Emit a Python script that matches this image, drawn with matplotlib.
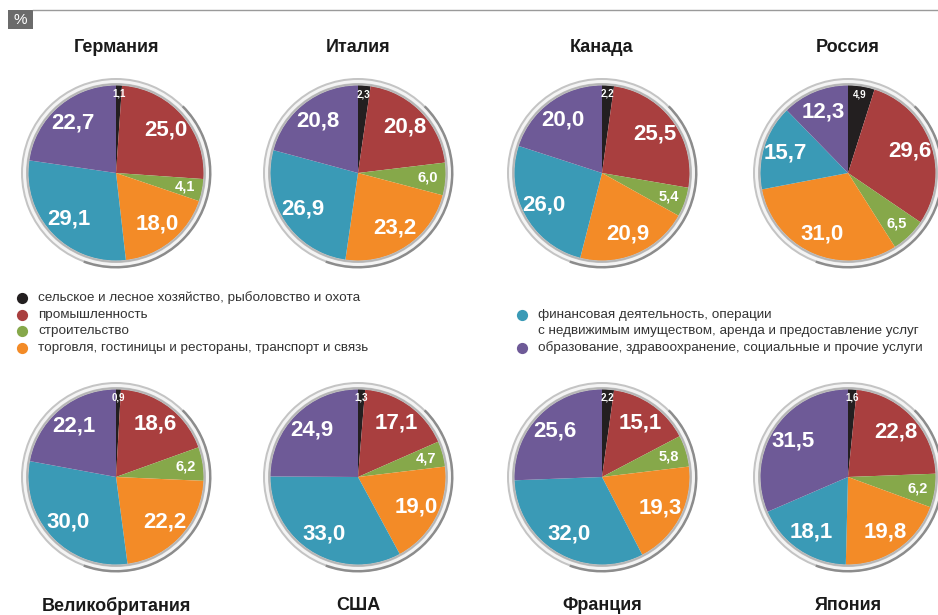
import numpy as np
import matplotlib
matplotlib.use('Agg')
import matplotlib.pyplot as plt
from matplotlib.patches import Wedge, Rectangle

plt.rcParams['font.family'] = ['Liberation Sans', 'DejaVu Sans']

# sectors, clockwise from the top
sectors = ['сельское и лесное хозяйство, рыболовство и охота',
           'промышленность',
           'строительство',
           'торговля, гостиницы и рестораны, транспорт и связь',
           'финансовая деятельность, операции\nс недвижимым имуществом, аренда и предоставление услуг',
           'образование, здравоохранение, социальные и прочие услуги']
colors = ['#231f20', '#a93f3f', '#86a84a', '#f38b27', '#3a9ab6', '#6e5a97']

countries = ['Германия', 'Италия', 'Канада', 'Россия',
             'Великобритания', 'США', 'Франция', 'Япония']
germany = [1.1, 25.0, 4.1, 18.0, 29.1, 22.7]
italy = [2.3, 20.8, 6.0, 23.2, 26.9, 20.8]
canada = [2.2, 25.5, 5.4, 20.9, 26.0, 20.0]
russia = [4.9, 29.6, 6.5, 31.0, 15.7, 12.3]
uk = [0.9, 18.6, 6.2, 22.2, 30.0, 22.1]
usa = [1.3, 17.1, 4.7, 19.0, 33.0, 24.9]
france = [2.2, 15.1, 5.8, 19.3, 32.0, 25.6]
japan = [1.6, 22.8, 6.2, 19.8, 18.1, 31.5]
values = [germany, italy, canada, russia, uk, usa, france, japan]

W, H = 938, 615
fig = plt.figure(figsize=(9.38, 6.15), dpi=100)
ax = fig.add_axes([0, 0, 1, 1])

def py(y):
    # pixel row -> axis y
    return H - y

col_x = [116, 358, 602, 848]
row_y = [173, 477]
title_y = [47, 606]
R = 88

for i, (name, vals) in enumerate(zip(countries, values)):
    cx = col_x[i % 4]
    cy = py(row_y[i // 4])
    wedges, _ = ax.pie(vals, colors=colors, startangle=90, counterclock=False,
                       center=(cx, cy), radius=R,
                       wedgeprops=dict(linewidth=0))
    # bevel ring
    ax.add_patch(Wedge((cx, cy), 95, 0, 360, width=7.5, color='#c4c4c4', lw=0))
    ax.add_patch(Wedge((cx, cy), 95.5, 250, 45, width=4, color='#8c8c8c', lw=0))
    ax.add_patch(Wedge((cx, cy), 93, 0, 360, width=3, color='#f4f4f4', lw=0))
    ax.add_patch(Wedge((cx, cy), 89.5, 0, 360, width=1.5, color='#b5b5b5', lw=0))
    for k, (w, v) in enumerate(zip(wedges, vals)):
        ang = np.deg2rad((w.theta1 + w.theta2) / 2)
        if k == 0:
            d, fs = 0.9, 7
        elif k == 2:
            d, fs = 0.8, 10.5
        else:
            d, fs = 0.75, 16
        ax.text(cx + d * R * np.cos(ang), cy + d * R * np.sin(ang),
                f'{v:.1f}'.replace('.', ','), color='white', fontsize=fs,
                fontweight='bold', ha='center', va='center')
    ax.text(cx, py(title_y[i // 4]), name, fontsize=13, fontweight='bold',
            color='#1a1a1a', ha='center', va='center')

# pie() resets the limits, so set them afterwards
ax.set_xlim(0, W)
ax.set_ylim(0, H)
ax.set_aspect('equal')
ax.axis('off')

# header
ax.add_patch(Rectangle((8, py(29)), 25, 19, color='#6b6b6b', lw=0))
ax.text(20.5, py(19.5), '%', color='white', fontsize=11, ha='center', va='center')
ax.plot([33, W], [py(9.5), py(9.5)], color='#9a9a9a', lw=1)

# legend
fs_leg = 9.7
left_rows = [298, 315, 331, 348]
for k in range(4):
    ax.scatter(22, py(left_rows[k]), s=65, color=colors[k], lw=0)
    ax.text(38, py(left_rows[k]), sectors[k], fontsize=fs_leg, color='#333333',
            va='center', ha='left')
ax.scatter(522, py(315), s=65, color=colors[4], lw=0)
ax.text(538, py(315), sectors[4].split('\n')[0], fontsize=fs_leg, color='#333333',
        va='center', ha='left')
ax.text(538, py(331), sectors[4].split('\n')[1], fontsize=fs_leg, color='#333333',
        va='center', ha='left')
ax.scatter(522, py(348), s=65, color=colors[5], lw=0)
ax.text(538, py(348), sectors[5], fontsize=fs_leg, color='#333333',
        va='center', ha='left')

fig.savefig('out.png', dpi=100)
